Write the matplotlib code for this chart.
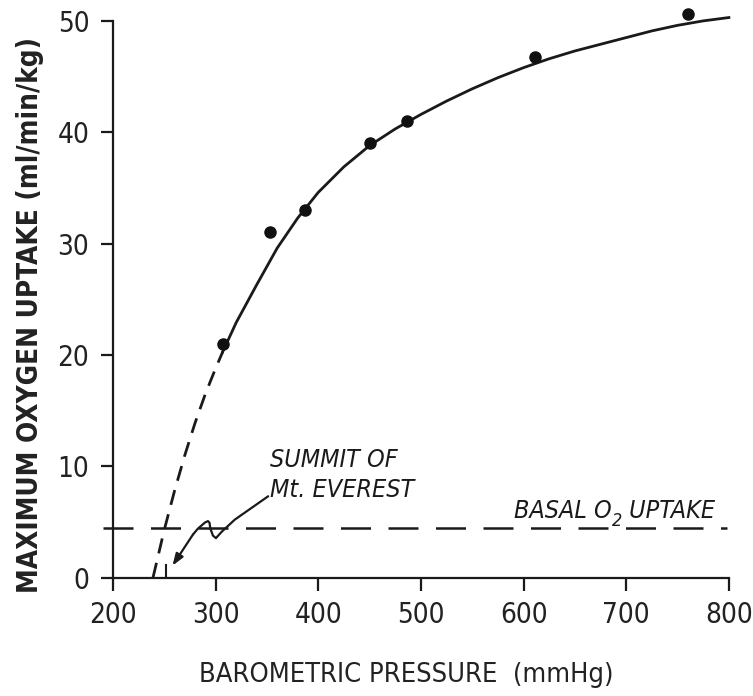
import numpy as np
import matplotlib
matplotlib.use("Agg")
import matplotlib.pyplot as plt
from matplotlib import font_manager as fm

# measured points (barometric pressure mmHg, max O2 uptake ml/min/kg)
pressure = [307, 353, 387, 450, 486, 611, 760]
vo2max = [21.0, 31.0, 33.0, 39.0, 41.0, 46.8, 50.6]

# fitted line, dashed extrapolation part
extrap_x = [239, 250, 260, 270, 280, 290, 300, 307]
extrap_y = [0.0, 4.3, 7.8, 11.0, 13.9, 16.5, 18.8, 20.3]

# fitted line, solid part
fit_x = [307, 320, 340, 360, 380, 400, 425, 450, 475, 500, 525, 550,
         575, 600, 625, 650, 675, 700, 725, 750, 775, 800]
fit_y = [20.3, 22.9, 26.3, 29.6, 32.3, 34.6, 36.9, 38.8, 40.3, 41.6, 42.8, 43.9,
         44.9, 45.8, 46.6, 47.3, 47.9, 48.5, 49.1, 49.6, 50.0, 50.3]

basal_x = [190, 798]
basal_y = [4.5, 4.5]

summit_p = 252

xticks = [200, 300, 400, 500, 600, 700, 800]
yticks = [0, 10, 20, 30, 40, 50]


def pick(size, bold=False, italic=False):
    # look for a narrow / condensed sans, like the lettering of the figure
    best = None
    for f in fm.fontManager.ttflist:
        n = f.name.lower()
        if "mono" in n or "serif" in n:
            continue
        cond = "narrow" in n or "condensed" in n or f.stretch in ("condensed", "semi-condensed")
        if not cond:
            continue
        w = f.weight if isinstance(f.weight, int) else fm.weight_dict.get(f.weight, 400)
        if (w >= 600) != bold or (w < 350):
            continue
        if (f.style != "normal") != italic:
            continue
        pref = 0 if "liberation" in n else 1 if "dejavu" in n else 2
        if best is None or pref < best[0]:
            best = (pref, f.fname)
    if best:
        return fm.FontProperties(fname=best[1], size=size)
    return fm.FontProperties(family="Liberation Sans", size=size,
                             weight="bold" if bold else "normal",
                             style="italic" if italic else "normal")


ink = "#1a1a1a"

fig = plt.figure(figsize=(7.53, 6.96), dpi=100)
ax = fig.add_axes([0.150, 0.170, 0.818, 0.800])

ax.plot(fit_x, fit_y, color=ink, lw=2.0, clip_on=False)
ax.plot(extrap_x, extrap_y, color=ink, lw=2.0, dashes=(5.5, 3.5))
ax.plot(pressure, vo2max, "o", color="#111111", ms=8, clip_on=False)
ax.plot(basal_x, basal_y, color=ink, lw=1.8, dashes=(12, 7), clip_on=False)
ax.plot([summit_p, summit_p], [0, 1.1], color=ink, lw=1.5)

# squiggly arrow to the summit pressure
sq_x = [351.2, 318.8, 306.1, 300.3, 297.4, 294.9, 294.0, 292.5, 289.6, 282.8, 277.9]
sq_y = [7.31, 5.22, 4.14, 3.55, 3.78, 4.41, 4.95, 5.08, 4.95, 4.41, 3.87]
ax.plot(sq_x, sq_y, color=ink, lw=1.6, solid_capstyle="round", solid_joinstyle="round")
ax.annotate("", xy=(258, 1.08), xytext=(277.9, 3.87),
            arrowprops=dict(arrowstyle="-|>,head_length=0.7,head_width=0.25",
                            color=ink, lw=1.6, shrinkA=0, shrinkB=0))

ital = pick(18, italic=True)
ax.text(353, 9.25, "SUMMIT OF\nMt. EVEREST", fontproperties=ital,
        ha="left", va="center", linespacing=1.3, color=ink)

t1 = ax.text(591, 5.4, "BASAL O", fontproperties=ital, ha="left",
             va="baseline", color=ink)
t2 = ax.annotate("2", xy=(1.0, 0.05), xycoords=t1, fontproperties=pick(13, italic=True),
                 ha="left", va="center", color=ink)
ax.annotate(" UPTAKE", xy=(1.0, 0.0), xycoords=(t2, t1), fontproperties=ital,
            ha="left", va="bottom", color=ink)

ax.set_xlim(200, 800)
ax.set_ylim(0, 50)
ax.set_xticks(xticks)
ax.set_yticks(yticks)
for s in ["top", "right"]:
    ax.spines[s].set_visible(False)
for s in ["left", "bottom"]:
    ax.spines[s].set_linewidth(1.6)
    ax.spines[s].set_color(ink)
ax.tick_params(direction="out", length=9, width=1.6, color=ink, pad=8)
tickfont = pick(20)
for lab in ax.get_xticklabels() + ax.get_yticklabels():
    lab.set_fontproperties(tickfont)
    lab.set_color("#222222")

fig.text(0.040, 0.547, "MAXIMUM OXYGEN UPTAKE (ml/min/kg)",
         fontproperties=pick(20, bold=True), rotation=90,
         ha="center", va="center", color="#222222")
fig.text(0.540, 0.030, "BAROMETRIC PRESSURE  (mmHg)", fontproperties=pick(19.5),
         ha="center", va="center", color="#222222")

fig.savefig("out.png", dpi=100)
